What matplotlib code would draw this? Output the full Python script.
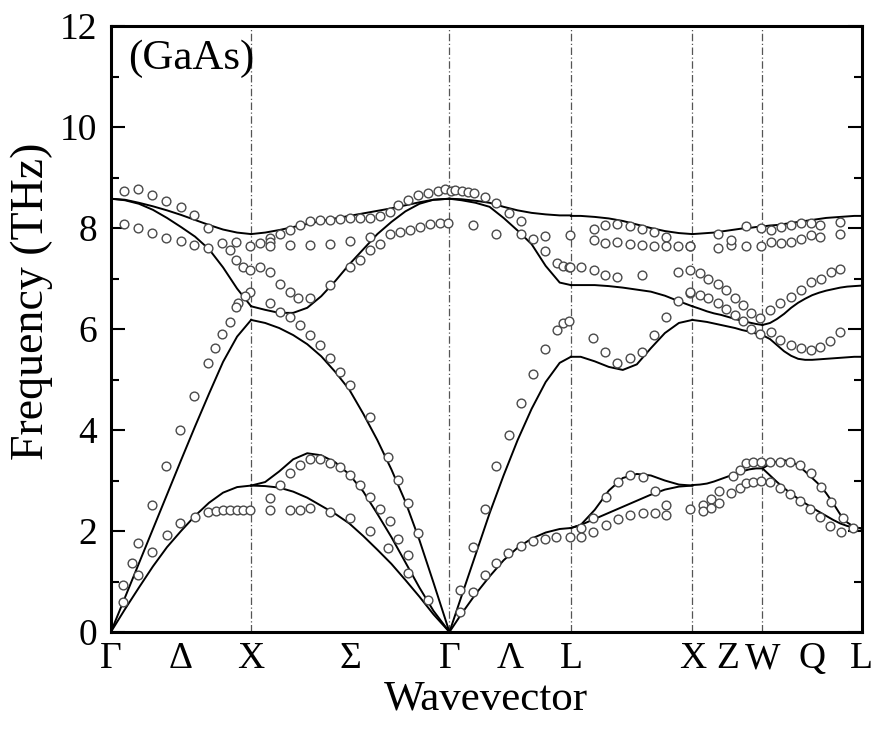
import numpy as np
import matplotlib
matplotlib.use("Agg")
import matplotlib.pyplot as plt
from matplotlib.ticker import MultipleLocator

plt.rcParams['font.family'] = ['Liberation Serif', 'DejaVu Serif']

# high-symmetry points along the path (units of 2*pi/a)
sym_q = [0.0, 1.0, 2.414, 3.280, 4.146, 4.646, 5.353]
label_q = [0.0, 0.5, 1.0, 1.707, 2.414, 2.847, 3.280, 4.146, 4.396, 4.646, 5.0, 5.353]
label_txt = ['Γ', 'Δ', 'X', 'Σ', 'Γ', 'Λ', 'L', 'X', 'Z', 'W', 'Q', 'L']
vline_q = [1.0, 2.414, 3.280, 4.146, 4.646]

# --- calculated branches (solid lines) ---
q_gx = [0.0, 0.1, 0.2, 0.3, 0.4, 0.5, 0.6, 0.7, 0.8, 0.9, 1.0]
gx_ta = [0, 0.45, 0.88, 1.3, 1.68, 2.0, 2.3, 2.56, 2.76, 2.87, 2.9]
gx_la = [0, 0.68, 1.36, 2.04, 2.72, 3.4, 4.07, 4.72, 5.35, 5.85, 6.18]
gx_to = [8.58, 8.56, 8.5, 8.43, 8.35, 8.26, 8.16, 8.06, 7.97, 7.91, 7.88]
gx_lo = [8.58, 8.55, 8.48, 8.36, 8.2, 8.02, 7.83, 7.58, 7.22, 6.8, 6.45]

q_xg = [1.0, 1.1, 1.2, 1.3, 1.4, 1.5, 1.6, 1.7, 1.8, 1.9, 2.0, 2.1, 2.2, 2.3, 2.414]
xg_top = [7.88, 7.91, 7.96, 8.02, 8.08, 8.14, 8.19, 8.24, 8.29, 8.34, 8.39, 8.45, 8.51, 8.56, 8.58]
xg_dip = [6.45, 6.38, 6.32, 6.32, 6.42, 6.65, 6.95, 7.28, 7.58, 7.88, 8.12, 8.33, 8.48, 8.56, 8.58]
xg_la = [6.18, 6.12, 6.02, 5.88, 5.7, 5.46, 5.15, 4.8, 4.32, 3.8, 3.22, 2.58, 1.82, 0.98, 0]
xg_ac1 = [2.9, 2.97, 3.18, 3.42, 3.54, 3.5, 3.36, 3.12, 2.78, 2.34, 1.88, 1.38, 0.88, 0.42, 0]
xg_ac2 = [2.9, 2.89, 2.86, 2.78, 2.66, 2.5, 2.34, 2.15, 1.9, 1.63, 1.35, 1.03, 0.7, 0.35, 0]

q_gl = [2.414, 2.5, 2.6, 2.7, 2.8, 2.9, 3.0, 3.1, 3.2, 3.28]
gl_ta = [0, 0.36, 0.75, 1.1, 1.42, 1.67, 1.85, 1.97, 2.04, 2.06]
gl_la = [0, 0.71, 1.53, 2.35, 3.1, 3.8, 4.42, 4.95, 5.33, 5.45]
gl_to = [8.58, 8.57, 8.54, 8.5, 8.42, 8.35, 8.3, 8.27, 8.25, 8.25]
gl_lo = [8.58, 8.55, 8.5, 8.42, 8.2, 7.95, 7.68, 7.25, 6.92, 6.87]

q_lx = [3.28, 3.35, 3.45, 3.55, 3.65, 3.75, 3.85, 3.95, 4.05, 4.146]
lx_top = [8.24, 8.24, 8.22, 8.19, 8.14, 8.07, 8.0, 7.94, 7.9, 7.88]
lx_mid = [6.87, 6.87, 6.87, 6.85, 6.82, 6.78, 6.74, 6.66, 6.55, 6.45]
lx_low = [5.45, 5.45, 5.36, 5.25, 5.19, 5.3, 5.62, 5.92, 6.12, 6.18]
lx_ac1 = [2.06, 2.12, 2.42, 2.8, 3.05, 3.13, 3.1, 3.0, 2.92, 2.9]
lx_ac2 = [2.06, 2.12, 2.24, 2.36, 2.48, 2.6, 2.72, 2.82, 2.88, 2.9]

q_xw = [4.146, 4.2, 4.25, 4.3, 4.35, 4.4, 4.45, 4.5, 4.55, 4.6, 4.646]
xw_top = [7.88, 7.89, 7.9, 7.91, 7.93, 7.95, 7.97, 7.99, 8.0, 8.02, 8.03]
xw_mid = [6.45, 6.4, 6.35, 6.31, 6.28, 6.24, 6.2, 6.16, 6.13, 6.1, 6.08]
xw_low = [6.18, 6.16, 6.14, 6.11, 6.08, 6.05, 6.02, 5.98, 5.95, 5.91, 5.88]
xw_ac = [2.91, 2.92, 2.94, 2.98, 3.03, 3.08, 3.13, 3.18, 3.22, 3.24, 3.24]

q_wl = [4.646, 4.7, 4.75, 4.8, 4.85, 4.9, 4.95, 5.0, 5.05, 5.1, 5.15, 5.2, 5.25, 5.3, 5.353]
wl_top = [8.03, 8.05, 8.06, 8.08, 8.1, 8.12, 8.14, 8.16, 8.18, 8.2, 8.21, 8.22, 8.23, 8.24, 8.24]
wl_mid = [6.08, 6.12, 6.2, 6.3, 6.42, 6.52, 6.6, 6.67, 6.72, 6.76, 6.79, 6.82, 6.84, 6.85, 6.86]
wl_low = [5.88, 5.8, 5.68, 5.56, 5.47, 5.41, 5.39, 5.39, 5.4, 5.41, 5.42, 5.43, 5.44, 5.45, 5.45]
wl_ac1 = [3.24, 3.33, 3.38, 3.4, 3.38, 3.3, 3.18, 3.05, 2.92, 2.75, 2.55, 2.33, 2.17, 2.08, 2.05]
wl_ac2 = [3.24, 3.1, 2.97, 2.85, 2.74, 2.64, 2.55, 2.46, 2.38, 2.3, 2.22, 2.15, 2.1, 2.07, 2.05]

# --- measured points (open circles) ---
exp_q = [
    # Gamma-X
    0.095, 0.19, 0.295, 0.39, 0.5, 0.594, 0.694,
    0.095, 0.19, 0.295, 0.39, 0.5, 0.594, 0.694,
    0.789, 0.889, 0.99, 0.848, 0.889, 0.943, 0.99,
    0.99, 0.955, 0.907, 0.889, 0.848, 0.789, 0.741, 0.694, 0.594, 0.492, 0.39, 0.295, 0.195, 0.152, 0.088,
    0.088, 0.195, 0.29, 0.397, 0.492, 0.599, 0.694, 0.753, 0.8, 0.848, 0.896, 0.943, 0.99,
    # X-Gamma
    1.133, 1.205, 1.276, 1.347, 1.418, 1.49, 1.561, 1.632, 1.703, 1.775, 1.846, 1.917, 1.989, 2.048,
    2.119, 2.19, 2.262, 2.333, 2.381, 2.428,
    1.062, 1.133, 1.133, 1.276, 1.418, 1.561, 1.703, 1.846, 1.917, 1.989, 2.06, 2.131, 2.202, 2.274,
    2.345, 2.404,
    1.062, 1.133, 1.205, 1.276, 1.335, 1.418, 1.561, 1.703, 1.775, 1.846,
    1.133, 1.205, 1.276, 1.347, 1.418, 1.49, 1.561, 1.632, 1.703, 1.846, 1.977, 2.048, 2.119, 2.19,
    1.205, 1.276, 1.347, 1.418, 1.49, 1.561, 1.632, 1.703, 1.775, 1.846, 1.917, 1.989, 2.048, 2.119, 2.262,
    1.133, 1.133, 1.276, 1.347, 1.418, 1.561, 1.703, 1.846, 1.977, 2.119,
    # Gamma-L
    2.452, 2.5, 2.547, 2.59, 2.666, 2.749, 2.837, 2.927,
    2.582, 2.749, 2.927, 3.01, 3.093, 3.272,
    3.093, 3.184, 3.224, 3.264,
    2.488, 2.582, 2.666, 2.749, 2.837, 2.927, 3.01, 3.093, 3.184, 3.224, 3.264,
    2.488, 2.582, 2.666, 2.749, 2.832, 2.927, 3.01, 3.093, 3.177, 3.272,
    # L-X
    3.445, 3.526, 3.611, 3.699, 3.787, 3.873, 3.961,
    3.445, 3.526, 3.611, 3.699, 3.787, 3.873, 3.961, 4.044, 4.127,
    3.272, 3.355, 3.445, 3.526, 3.611, 3.787, 4.044, 4.127,
    4.044, 4.127,
    3.438, 3.526, 3.611, 3.699, 3.787, 3.873, 3.961,
    3.355, 3.438, 3.533, 3.616, 3.699, 3.794, 3.877, 3.961, 3.961,
    3.355, 3.438, 3.533, 3.616, 3.699, 3.794, 3.877,
    # X-W-L
    4.329, 4.531, 4.633, 4.709, 4.78, 4.852, 4.923, 4.994, 5.053, 5.196,
    4.127, 4.329, 4.424, 4.424, 4.531, 4.633, 4.709, 4.78, 4.852, 4.923, 4.994, 5.053, 5.196,
    4.198, 4.257, 4.329, 4.388, 4.448, 4.507, 4.567, 4.626, 4.697, 4.768, 4.852, 4.923, 4.994, 5.066,
    5.137, 5.196,
    4.127, 4.198, 4.257, 4.329, 4.388, 4.448, 4.507, 4.567, 4.626, 4.709, 4.768, 4.852, 4.923, 4.994,
    5.053, 5.125, 5.196,
    4.127, 4.222, 4.222, 4.281, 4.281, 4.336, 4.336,
    4.436, 4.483, 4.531, 4.578, 4.638, 4.697, 4.768, 4.84, 4.911, 4.994, 5.066, 5.137, 5.22, 5.291,
    4.424, 4.483, 4.531, 4.578, 4.638, 4.697, 4.768, 4.84, 4.911, 4.982, 5.053, 5.125, 5.208,
]
exp_f = [
    # Gamma-X
    8.74, 8.77, 8.65, 8.54, 8.42, 8.26, 8.01,
    8.08, 8.01, 7.91, 7.81, 7.75, 7.66, 7.6,
    7.71, 7.73, 7.64, 7.56, 7.37, 7.23, 7.17,
    6.74, 6.65, 6.51, 6.43, 6.14, 5.9, 5.62, 5.32, 4.67, 4.01, 3.29, 2.51, 1.76, 1.36, 0.93,
    0.6, 1.13, 1.59, 1.92, 2.15, 2.28, 2.38, 2.4, 2.42, 2.42, 2.42, 2.42, 2.42,
    # X-Gamma
    7.8, 7.89, 7.97, 8.06, 8.13, 8.15, 8.16, 8.17, 8.19, 8.19, 8.19, 8.24, 8.32, 8.46,
    8.55, 8.65, 8.7, 8.74, 8.77, 8.74,
    7.7, 7.73, 7.64, 7.66, 7.66, 7.68, 7.75, 7.83, 7.68, 7.89, 7.93, 7.97, 8.03, 8.08,
    8.1, 8.09,
    7.23, 7.13, 6.9, 6.74, 6.61, 6.61, 6.87, 7.23, 7.37, 7.56,
    6.51, 6.34, 6.24, 6.08, 5.88, 5.68, 5.42, 5.15, 4.89, 4.26, 3.47, 3.02, 2.55, 1.97,
    2.91, 3.14, 3.31, 3.42, 3.42, 3.35, 3.26, 3.11, 2.91, 2.68, 2.43, 2.2, 1.85, 1.52, 0.63,
    2.42, 2.65, 2.42, 2.42, 2.45, 2.38, 2.25, 2.01, 1.66, 1.16,
    # Gamma-L
    8.75, 8.74, 8.72, 8.7, 8.61, 8.49, 8.29, 8.13,
    8.06, 7.89, 7.89, 7.78, 7.84, 7.86,
    7.54, 7.31, 7.25, 7.22,
    0.83, 1.69, 2.43, 3.29, 3.9, 4.53, 5.11, 5.6, 5.99, 6.11, 6.16,
    0.4, 0.8, 1.13, 1.37, 1.56, 1.7, 1.81, 1.85, 1.89, 1.89,
    # L-X
    7.99, 8.06, 8.08, 8.04, 7.99, 7.93, 7.83,
    7.76, 7.71, 7.73, 7.68, 7.66, 7.64, 7.64, 7.64, 7.64,
    7.23, 7.22, 7.16, 7.07, 7.04, 7.07, 7.12, 7.17,
    6.56, 6.72,
    5.82, 5.55, 5.33, 5.42, 5.55, 5.88, 6.24,
    2.05, 2.25, 2.68, 2.98, 3.11, 3.06, 2.8, 2.51, 2.32,
    1.89, 1.99, 2.12, 2.23, 2.32, 2.36, 2.36,
    # X-W-L
    7.89, 8.04, 8.01, 7.97, 8.03, 8.06, 8.09, 8.09, 8.06, 8.11,
    7.64, 7.6, 7.66, 7.76, 7.64, 7.64, 7.73, 7.71, 7.73, 7.78, 7.86, 7.83, 7.89,
    7.1, 7.0, 6.9, 6.77, 6.61, 6.48, 6.32, 6.21, 6.38, 6.51, 6.64, 6.77, 6.94, 7.0,
    7.13, 7.18,
    6.74, 6.67, 6.61, 6.51, 6.39, 6.28, 6.15, 6.01, 5.91, 5.95, 5.78, 5.68, 5.62, 5.58,
    5.65, 5.77, 5.95,
    2.43, 2.51, 2.4, 2.63, 2.45, 2.8, 2.56,
    3.09, 3.21, 3.34, 3.37, 3.37, 3.37, 3.37, 3.37, 3.31, 3.14, 2.88, 2.58, 2.25, 2.05,
    2.75, 2.85, 2.96, 2.98, 3.0, 2.98, 2.85, 2.73, 2.6, 2.43, 2.28, 2.1, 1.99,
]

branches = [
    (q_gx, [gx_ta, gx_la, gx_to, gx_lo]),
    (q_xg, [xg_top, xg_dip, xg_la, xg_ac1, xg_ac2]),
    (q_gl, [gl_ta, gl_la, gl_to, gl_lo]),
    (q_lx, [lx_top, lx_mid, lx_low, lx_ac1, lx_ac2]),
    (q_xw, [xw_top, xw_mid, xw_low, xw_ac]),
    (q_wl, [wl_top, wl_mid, wl_low, wl_ac1, wl_ac2]),
]

fig = plt.figure(figsize=(8.73, 7.31), dpi=100)
ax = fig.add_axes([0.127, 0.1354, 0.860, 0.829])

for q in vline_q:
    ax.axvline(q, color='#555555', lw=0.9, ls='-.', dashes=(6, 2, 1, 2), zorder=1)

for qs, curves in branches:
    for f in curves:
        ax.plot(qs, f, color='black', lw=1.4, zorder=3)

ax.plot(exp_q, exp_f, ls='none', marker='o', ms=6.3, mfc='white', mec='#4a4a4a',
        mew=1.0, zorder=4)

ax.set_xlim(sym_q[0], sym_q[-1])
ax.set_ylim(0, 12)
ax.set_xticks(label_q)
ax.set_xticklabels(label_txt, fontsize=27)
ax.tick_params(axis='x', length=0, pad=7)
ax.yaxis.set_major_locator(MultipleLocator(2))
ax.yaxis.set_minor_locator(MultipleLocator(1))
ax.tick_params(axis='y', which='both', direction='in', left=True, right=True,
               labelsize=27, width=1.5, pad=10)
ax.tick_params(axis='y', which='major', length=10)
ax.tick_params(axis='y', which='minor', length=6)
for s in ax.spines.values():
    s.set_linewidth(2.2)

ax.set_ylabel('Frequency (THz)', fontsize=33)
ax.yaxis.set_label_coords(-0.077, 0.545)
ax.set_xlabel('Wavevector', fontsize=31, labelpad=3)
ax.text(0.12, 11.35, '(GaAs)', fontsize=31, ha='left', va='center')

fig.savefig('out.png', dpi=100)
